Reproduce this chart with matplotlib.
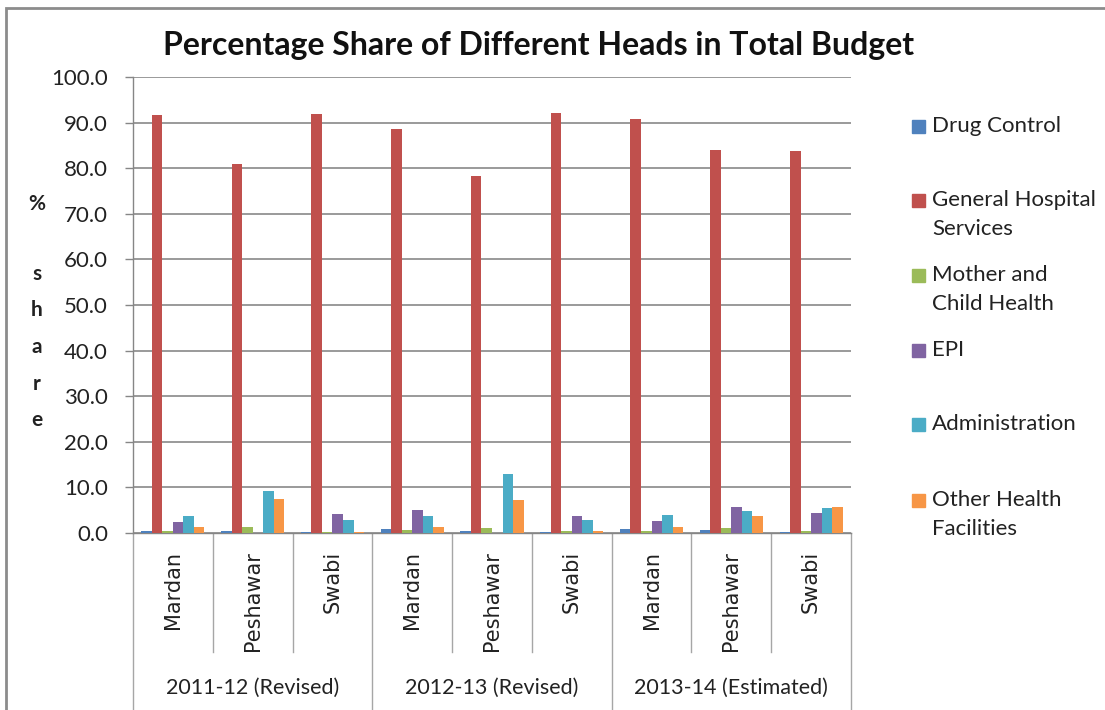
import matplotlib.pyplot as plt
import matplotlib.transforms as mtransforms
from matplotlib.patches import Rectangle
import numpy as np

plt.rcParams['font.family'] = ['Lato', 'DejaVu Sans']

# data (% share)
districts = ["Mardan", "Peshawar", "Swabi"] * 3
years = ["2011-12 (Revised)", "2012-13 (Revised)", "2013-14 (Estimated)"]
heads = ["Drug Control", "General Hospital\nServices", "Mother and\nChild Health",
         "EPI", "Administration", "Other Health\nFacilities"]
drug_control = [0.5, 0.4, 0.2, 0.9, 0.4, 0.2, 0.8, 0.6, 0.2]
general_hospital = [91.6, 81.0, 91.8, 88.7, 78.2, 92.2, 90.8, 84.0, 83.7]
mother_child = [0.5, 1.3, 0.3, 0.6, 1.1, 0.4, 0.5, 1.2, 0.4]
epi = [2.5, 0.0, 4.1, 5.1, 0.0, 3.8, 2.7, 5.8, 4.3]
administration = [3.8, 9.3, 2.9, 3.8, 13.0, 2.9, 4.0, 4.8, 5.5]
other_health = [1.4, 7.5, 0.3, 1.4, 7.2, 0.5, 1.4, 3.8, 5.7]
series = [drug_control, general_hospital, mother_child, epi, administration, other_health]
colors = ["#4F81BD", "#C0504D", "#9BBB59", "#8064A2", "#4BACC6", "#F79646"]

W, H = 1105, 710
fig = plt.figure(figsize=(W / 100, H / 100), dpi=100)
ax = fig.add_axes([133 / W, 1 - 533 / H, (851 - 133) / W, (533 - 77) / H])

x = np.arange(len(districts))
bw = 0.132
for k, (vals, c) in enumerate(zip(series, colors)):
    ax.bar(x + (k - 2.5) * bw, vals, width=bw, color=c, linewidth=0, zorder=3)

ax.set_xlim(-0.5, len(districts) - 0.5)
ax.set_ylim(0, 100)
ax.set_yticks(np.arange(0, 101, 10))
ax.set_yticklabels([f"{v:.1f}" for v in np.arange(0, 101, 10)], fontsize=16, color="#222222")
ax.yaxis.grid(True, color="#7f7f7f", linewidth=1.1, zorder=0)
ax.tick_params(axis="y", length=6, width=1, color="#868686", pad=12)

ax.set_xticks(x)
ax.set_xticklabels(districts, rotation=90, fontsize=15, color="#222222",
                   family="DejaVu Sans")
ax.tick_params(axis="x", length=0, pad=13)

for s in ["top", "right"]:
    ax.spines[s].set_visible(False)
for s in ["left", "bottom"]:
    ax.spines[s].set_color("#868686")
    ax.spines[s].set_linewidth(1)

# category separators below the axis
trans = mtransforms.blended_transform_factory(ax.transData, ax.transAxes)
for b in np.arange(-0.5, len(districts), 1.0):
    low = -0.40 if (b + 0.5) % 3 == 0 else -0.262
    ax.plot([b, b], [0, low], transform=trans, color="#a6a6a6", lw=1, clip_on=False)
for i, yr in enumerate(years):
    ax.text(3 * i + 1, -0.34, yr, transform=trans, ha="center", va="center",
            fontsize=15.5, color="#222222")

fig.text(0.487, 1 - 46 / H, "Percentage Share of Different Heads in Total Budget",
         ha="center", va="center", fontsize=23, fontweight="bold", color="#111111")

# vertical axis label, one letter per row
for ch, py in zip(["%", "s", "h", "a", "r", "e"], [204, 274, 310, 347, 384, 420]):
    fig.text(37 / W, 1 - py / H, ch, ha="center", va="center", fontsize=15,
             fontweight="bold", color="#222222")

# legend
legend_y = [126, 200, 275, 350, 424, 500]
for lab, c, py in zip(heads, colors, legend_y):
    fig.patches.append(Rectangle((912 / W, 1 - (py + 7) / H), 13 / W, 13 / H,
                                 transform=fig.transFigure, color=c, figure=fig))
    fig.text(932 / W, 1 - (py - 10) / H, lab, ha="left", va="top", fontsize=16,
             color="#222222", linespacing=1.55)

# chart area border
fig.patches.append(Rectangle((6 / W, -0.05), 1.2, 1 - 8 / H + 0.05, transform=fig.transFigure,
                             fill=False, edgecolor="#8c8c8c", linewidth=2, figure=fig))

fig.savefig("out.png", dpi=100)
